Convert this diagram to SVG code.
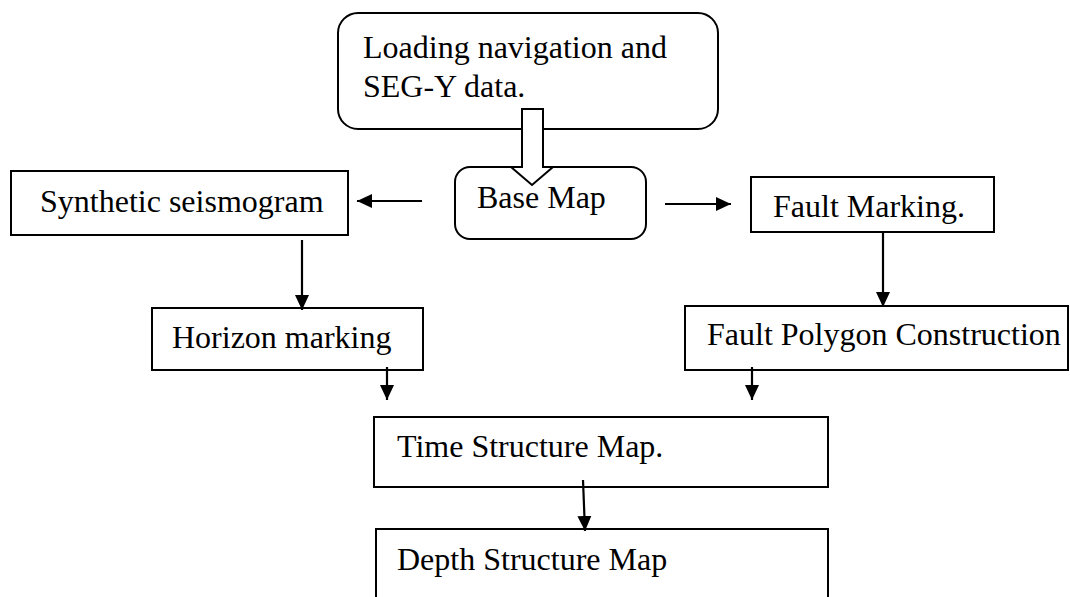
<svg xmlns="http://www.w3.org/2000/svg" width="1070" height="597" viewBox="0 0 1070 597">
<defs>
<marker id="ah" markerWidth="16" markerHeight="16" viewBox="0 0 16 16" refX="15" refY="8" orient="auto" markerUnits="userSpaceOnUse">
<path d="M0,1 L15,8 L0,15 Z" fill="#000"/>
</marker>
</defs>
<style>
.box{fill:#fff;stroke:#000;stroke-width:2}
.t{font-family:"Liberation Serif","Times New Roman",serif;font-size:32px;fill:#000}
.c{stroke:#000;stroke-width:2.2;fill:none;marker-end:url(#ah)}
</style>
<rect width="1070" height="597" fill="#fff"/>
<g id="n-loading">
<rect class="box" x="338" y="13" width="380" height="116" rx="20"/>
<text class="t" x="363" y="58">Loading navigation and</text>
<text class="t" x="363" y="97">SEG-Y data.</text>
</g>
<g id="n-basemap">
<rect class="box" x="455" y="167" width="191" height="72" rx="15"/>
<text class="t" x="477" y="208">Base Map</text>
</g>
<g id="n-synthetic">
<rect class="box" x="11" y="171" width="337" height="64"/>
<text class="t" x="40" y="212">Synthetic seismogram</text>
</g>
<g id="n-fault">
<rect class="box" x="751" y="177" width="243" height="55"/>
<text class="t" x="773" y="217">Fault Marking.</text>
</g>
<g id="n-horizon">
<rect class="box" x="152" y="308" width="271" height="62"/>
<text class="t" x="172" y="348">Horizon marking</text>
</g>
<g id="n-polygon">
<rect class="box" x="685" y="306" width="383" height="64"/>
<text class="t" x="707" y="345">Fault Polygon Construction</text>
</g>
<g id="n-time">
<rect class="box" x="374" y="417" width="454" height="70"/>
<text class="t" x="397" y="457">Time Structure Map.</text>
</g>
<g id="n-depth">
<rect class="box" x="376" y="529" width="452" height="80"/>
<text class="t" x="397" y="570">Depth Structure Map</text>
</g>
<g id="connectors">
<polygon points="522,109 543,109 543,167 553,167 532,185 511,167 522,167" fill="#fff" stroke="#000" stroke-width="2"/>
<line class="c" x1="422" y1="201" x2="357" y2="201"/>
<line class="c" x1="665" y1="204" x2="731" y2="204"/>
<line class="c" x1="302" y1="240" x2="302" y2="310"/>
<line class="c" x1="883" y1="232" x2="883" y2="307"/>
<line class="c" x1="387" y1="367" x2="387" y2="400"/>
<line class="c" x1="752" y1="367" x2="752" y2="400"/>
<line class="c" x1="583" y1="480" x2="585" y2="531"/>
</g>
</svg>
